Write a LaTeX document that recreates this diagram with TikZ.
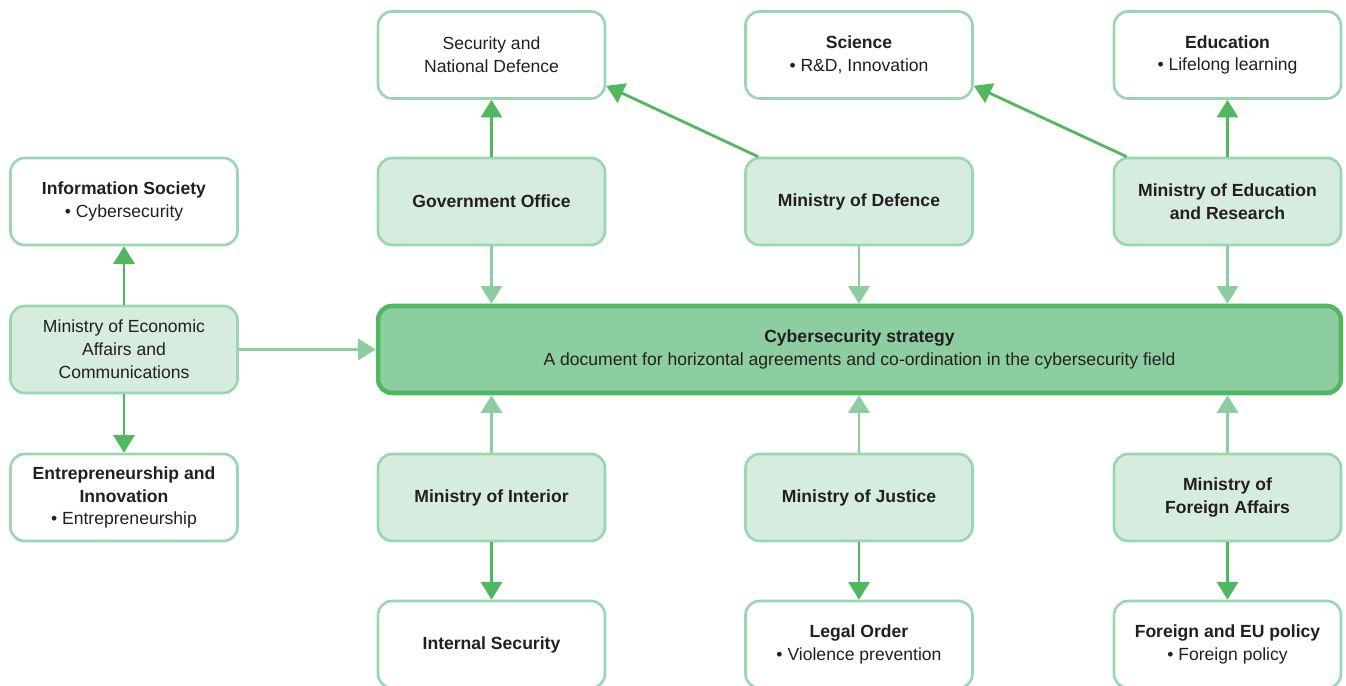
\documentclass[tikz,border=0pt]{standalone}
\usepackage{fontspec}
\setmainfont{Liberation Sans}
\usetikzlibrary{arrows.meta}

\definecolor{boxline}{RGB}{154,214,174}
\definecolor{boxfill}{RGB}{214,236,222}
\definecolor{corefill}{RGB}{140,206,160}
\definecolor{coreline}{RGB}{80,185,96}
\definecolor{outgreen}{RGB}{80,185,96}
\definecolor{ingreen}{RGB}{140,206,160}
\definecolor{txt}{RGB}{35,31,32}

\tikzset{
  topic/.style={draw=boxline, line width=1.5pt, rounded corners=0.28cm, fill=white,
    minimum width=4.54cm, minimum height=1.74cm, align=center, text=txt,
    font=\fontsize{10}{13}\selectfont},
  ministry/.style={topic, fill=boxfill, font=\fontsize{10}{13}\selectfont\bfseries},
  strategy/.style={topic, draw=coreline, line width=2.6pt, fill=corefill,
    minimum width=19.26cm},
  outflow/.style={-{Triangle[width=12pt,length=10pt]}, draw=outgreen, line width=1.6pt},
  inflow/.style={-{Triangle[width=12pt,length=10pt]}, draw=ingreen, line width=1.6pt},
}

\begin{document}
\begin{tikzpicture}[x=0.02cm, y=-0.02cm]
    \useasboundingbox (0,0) rectangle (1346,686);

    % Central strategy box
    \node[strategy] (core) at (859.5,349.5)
        {\textbf{Cybersecurity strategy}\\A document for horizontal agreements and co-ordination in the cybersecurity field};

    % Ministries
    \node[ministry] (govoffice) at (491.5,201.5) {Government Office};
    \node[ministry] (defence) at (859,201.5) {Ministry of Defence};
    \node[ministry] (edumin) at (1227.5,201.5) {Ministry of Education\\and Research};
    \node[ministry, font=\fontsize{10}{13}\selectfont] (econmin) at (124,349.5) {Ministry of Economic\\Affairs and\\Communications};
    \node[ministry] (interior) at (491.5,497.5) {Ministry of Interior};
    \node[ministry] (justice) at (859,497.5) {Ministry of Justice};
    \node[ministry] (foreignmin) at (1227.5,497.5) {Ministry of\\Foreign Affairs};

    % Policy areas
    \node[topic] (secdef) at (491.5,55) {Security and\\National Defence};
    \node[topic] (science) at (859,55) {\textbf{Science}\\• R\&D, Innovation};
    \node[topic] (education) at (1227.5,55) {\textbf{Education}\\• Lifelong learning};
    \node[topic] (infosoc) at (124,201.5) {\textbf{Information Society}\\• Cybersecurity};
    \node[topic] (entre) at (124,497.5) {\textbf{Entrepreneurship and}\\\textbf{Innovation}\\• Entrepreneurship};
    \node[topic] (internal) at (491.5,644.5) {\textbf{Internal Security}};
    \node[topic] (legal) at (859,644.5) {\textbf{Legal Order}\\• Violence prevention};
    \node[topic] (foreignpol) at (1227.5,644.5) {\textbf{Foreign and EU policy}\\• Foreign policy};

    % Ministries feeding the strategy
    \foreach \m in {govoffice, defence, edumin}
        \draw[inflow] (\m.south) -- (\m.south |- core.north);
    \foreach \m in {interior, justice, foreignmin}
        \draw[inflow] (\m.north) -- (\m.north |- core.south);
    \draw[inflow] (econmin.east) -- (core.west);

    % Ministries to their policy areas
    \draw[outflow] (govoffice) -- (secdef);
    \draw[outflow] ([xshift=0.28cm]defence.north west) -- ([yshift=0.28cm]secdef.south east);
    \draw[outflow] ([xshift=0.28cm]edumin.north west) -- ([yshift=0.28cm]science.south east);
    \draw[outflow] (edumin) -- (education);
    \draw[outflow] (econmin) -- (infosoc);
    \draw[outflow] (econmin) -- (entre);
    \draw[outflow] (interior) -- (internal);
    \draw[outflow] (justice) -- (legal);
    \draw[outflow] (foreignmin) -- (foreignpol);
\end{tikzpicture}
\end{document}
